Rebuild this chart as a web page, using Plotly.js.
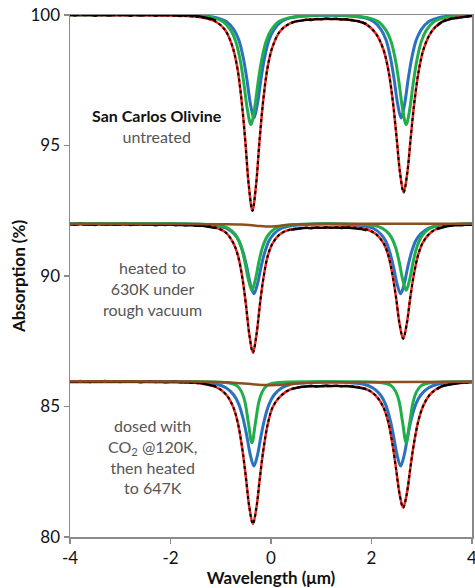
<!DOCTYPE html>
<html><head><meta charset="utf-8">
<script src="https://cdn.plot.ly/plotly-3.0.1.min.js"></script>
<style>html,body{margin:0;padding:0;background:#fff}#chart{width:475px;height:588px}</style>
</head><body><div id="chart"></div>
<script>
// ---------- Tick labels ----------
const xTickVals = [-4, -2, 0, 2, 4];
const xTickText = ['-4', '-2', '0', '2', '4'];
const yTickVals = [80, 85, 90, 95, 100];

// ---------- Top spectrum: San Carlos Olivine, untreated ----------
const topBlueX = [-4, -2, -1.34, -1.09, -0.89, -0.74, -0.64, -0.55, -0.48, -0.41, -0.34, -0.27, -0.20, -0.13, -0.04, 0.06, 0.21, 0.41, 0.66, 1.1, 1.59, 1.84, 2.04, 2.19, 2.29, 2.38, 2.45, 2.52, 2.59, 2.66, 2.73, 2.80, 2.89, 2.99, 3.14, 3.34, 3.59, 4.0];
const topBlueY = [100, 100, 99.96, 99.90, 99.75, 99.44, 99.04, 98.34, 97.54, 96.60, 96.05, 96.60, 97.54, 98.34, 99.04, 99.44, 99.75, 99.90, 99.96, 99.99, 99.96, 99.90, 99.75, 99.44, 99.04, 98.34, 97.54, 96.60, 96.05, 96.60, 97.54, 98.34, 99.04, 99.44, 99.75, 99.90, 99.96, 99.99];
const topGreenX = [-4, -2, -1.40, -1.15, -0.95, -0.80, -0.70, -0.61, -0.54, -0.47, -0.40, -0.33, -0.26, -0.19, -0.10, 0.00, 0.15, 0.35, 0.60, 1.1, 1.69, 1.94, 2.14, 2.29, 2.39, 2.48, 2.55, 2.62, 2.69, 2.76, 2.83, 2.90, 2.99, 3.09, 3.24, 3.44, 3.69, 4.0];
const topGreenY = [100, 100, 99.95, 99.89, 99.74, 99.41, 98.98, 98.24, 97.38, 96.38, 95.80, 96.38, 97.38, 98.24, 98.98, 99.41, 99.74, 99.89, 99.95, 100, 99.95, 99.89, 99.74, 99.41, 98.98, 98.24, 97.38, 96.38, 95.80, 96.38, 97.38, 98.24, 98.98, 99.41, 99.74, 99.89, 99.95, 99.98];
const topRedX = [-4, -3, -2, -1.6, -1.37, -1.12, -0.92, -0.77, -0.67, -0.58, -0.51, -0.44, -0.37, -0.30, -0.23, -0.16, -0.07, 0.03, 0.18, 0.38, 0.63, 1.1, 1.64, 1.89, 2.09, 2.24, 2.34, 2.43, 2.50, 2.57, 2.64, 2.71, 2.78, 2.85, 2.94, 3.04, 3.19, 3.39, 3.64, 4.0];
const topRedY = [100.0, 99.99, 99.98, 99.95, 99.90, 99.77, 99.44, 98.81, 97.98, 96.62, 95.13, 93.43, 92.50, 93.44, 95.14, 96.63, 97.97, 98.78, 99.38, 99.68, 99.80, 99.85, 99.80, 99.65, 99.28, 98.66, 97.84, 96.60, 95.29, 93.92, 93.20, 93.92, 95.29, 96.60, 97.86, 98.71, 99.35, 99.73, 99.88, 99.95];

// ---------- Middle spectrum: heated to 630K under rough vacuum ----------
const midBlueX = [-4, -2, -1.34, -1.09, -0.89, -0.74, -0.64, -0.55, -0.48, -0.41, -0.34, -0.27, -0.20, -0.13, -0.04, 0.06, 0.21, 0.41, 0.66, 1.1, 1.58, 1.83, 2.03, 2.18, 2.28, 2.37, 2.44, 2.51, 2.58, 2.65, 2.72, 2.79, 2.88, 2.98, 3.13, 3.33, 3.58, 4.0];
const midBlueY = [92, 92, 91.97, 91.93, 91.83, 91.62, 91.35, 90.87, 90.33, 89.69, 89.32, 89.69, 90.33, 90.87, 91.35, 91.62, 91.83, 91.93, 91.97, 92, 91.97, 91.93, 91.83, 91.62, 91.35, 90.87, 90.33, 89.69, 89.32, 89.69, 90.33, 90.87, 91.35, 91.62, 91.83, 91.93, 91.97, 92];
const midGreenX = [-4, -2, -1.38, -1.13, -0.93, -0.78, -0.68, -0.59, -0.52, -0.45, -0.38, -0.31, -0.24, -0.17, -0.08, 0.02, 0.17, 0.37, 0.62, 1.1, 1.69, 1.94, 2.14, 2.29, 2.39, 2.48, 2.55, 2.62, 2.69, 2.76, 2.83, 2.90, 2.99, 3.09, 3.24, 3.44, 3.69, 4.0];
const midGreenY = [92, 92, 91.98, 91.95, 91.89, 91.73, 91.50, 91.09, 90.55, 89.87, 89.45, 89.87, 90.55, 91.09, 91.50, 91.73, 91.89, 91.95, 91.98, 92, 91.98, 91.95, 91.89, 91.73, 91.50, 91.09, 90.55, 89.87, 89.45, 89.87, 90.55, 91.09, 91.50, 91.73, 91.89, 91.95, 91.98, 92];
const midRedX = [-4, -3, -2, -1.6, -1.36, -1.11, -0.91, -0.76, -0.66, -0.57, -0.50, -0.43, -0.36, -0.29, -0.22, -0.15, -0.06, 0.04, 0.19, 0.39, 0.64, 1.1, 1.63, 1.88, 2.08, 2.23, 2.33, 2.42, 2.49, 2.56, 2.63, 2.70, 2.77, 2.84, 2.93, 3.03, 3.18, 3.38, 3.63, 4.0];
const midRedY = [91.98, 91.97, 91.97, 91.96, 91.94, 91.86, 91.68, 91.30, 90.80, 89.93, 88.92, 87.74, 87.06, 87.74, 88.92, 89.93, 90.80, 91.28, 91.62, 91.78, 91.84, 91.85, 91.86, 91.80, 91.62, 91.29, 90.82, 90.02, 89.15, 88.15, 87.60, 88.15, 89.15, 90.02, 90.82, 91.31, 91.67, 91.87, 91.95, 91.98];
const midBrownX = [-4, -2, -1, -0.6, -0.3, -0.1, 0.1, 0.3, 0.6, 1, 2, 4];
const midBrownY = [92, 91.99, 91.98, 91.97, 91.93, 91.90, 91.91, 91.95, 91.98, 91.99, 92, 92];

// ---------- Bottom spectrum: dosed with CO2 @120K, then heated to 647K ----------
const botBlueX = [-4, -2, -1.34, -1.09, -0.89, -0.74, -0.64, -0.55, -0.48, -0.41, -0.34, -0.27, -0.20, -0.13, -0.04, 0.06, 0.21, 0.41, 0.66, 1.1, 1.58, 1.83, 2.03, 2.18, 2.28, 2.37, 2.44, 2.51, 2.58, 2.65, 2.72, 2.79, 2.88, 2.98, 3.13, 3.33, 3.58, 4.0];
const botBlueY = [85.95, 85.95, 85.91, 85.86, 85.71, 85.44, 85.08, 84.50, 83.86, 83.13, 82.72, 83.13, 83.86, 84.50, 85.08, 85.44, 85.71, 85.86, 85.91, 85.95, 85.91, 85.86, 85.71, 85.44, 85.08, 84.50, 83.86, 83.13, 82.72, 83.13, 83.86, 84.50, 85.08, 85.44, 85.71, 85.86, 85.91, 85.95];
const botGreenX = [-4, -2, -1.38, -1.13, -0.93, -0.78, -0.68, -0.59, -0.52, -0.45, -0.38, -0.31, -0.24, -0.17, -0.08, 0.02, 0.17, 0.37, 0.62, 1.1, 1.69, 1.94, 2.14, 2.29, 2.39, 2.48, 2.55, 2.62, 2.69, 2.76, 2.83, 2.90, 2.99, 3.09, 3.24, 3.44, 3.69, 4.0];
const botGreenY = [85.95, 85.95, 85.95, 85.94, 85.92, 85.88, 85.80, 85.58, 85.19, 84.38, 83.61, 84.38, 85.19, 85.58, 85.80, 85.88, 85.92, 85.94, 85.95, 85.95, 85.95, 85.94, 85.92, 85.88, 85.80, 85.58, 85.19, 84.38, 83.61, 84.38, 85.19, 85.58, 85.80, 85.88, 85.92, 85.94, 85.95, 85.95];
const botRedX = [-4, -3, -2, -1.6, -1.36, -1.11, -0.91, -0.76, -0.66, -0.57, -0.50, -0.43, -0.36, -0.29, -0.22, -0.15, -0.06, 0.04, 0.19, 0.39, 0.64, 1.1, 1.63, 1.88, 2.08, 2.23, 2.33, 2.42, 2.49, 2.56, 2.63, 2.70, 2.77, 2.84, 2.93, 3.03, 3.18, 3.38, 3.63, 4.0];
const botRedY = [85.95, 85.95, 85.94, 85.92, 85.87, 85.76, 85.49, 85.02, 84.37, 83.36, 82.29, 81.13, 80.50, 81.13, 82.29, 83.36, 84.37, 85.00, 85.40, 85.66, 85.76, 85.78, 85.77, 85.68, 85.43, 85.00, 84.43, 83.53, 82.60, 81.63, 81.12, 81.63, 82.60, 83.53, 84.43, 85.03, 85.49, 85.76, 85.87, 85.93];
const botBrownX = [-4, -2, -1.4, -0.8, -0.4, -0.1, 0.1, 0.4, 0.8, 1.5, 2.5, 4];
const botBrownY = [85.97, 85.96, 85.95, 85.92, 85.86, 85.82, 85.82, 85.87, 85.91, 85.93, 85.94, 85.95];

// ---------- Measured data in the flat regions (noisy) ----------
const noiseX = [-4.0, -3.9, -3.8, -3.7, -3.6, -3.5, -3.4, -3.3, -3.2, -3.1, -3.0, -2.9, -2.8, -2.7, -2.6, -2.5, -2.4, -2.3, -2.2, -2.1, -2.0, -1.9, -1.8, -1.7, -1.6, -1.5, -1.4, -1.3, -1.2, -1.1, null,
  0.4, 0.5, 0.6, 0.7, 0.8, 0.9, 1.0, 1.1, 1.2, 1.3, 1.4, 1.5, 1.6, 1.7, 1.8, 1.9, null,
  3.3, 3.4, 3.5, 3.6, 3.7, 3.8, 3.9, 4.0];
const topNoiseY = [100.02, 99.98, 100.03, 99.99, 100.01, 99.97, 100.02, 100.00, 99.98, 100.03, 99.99, 100.01, 99.97, 100.02, 99.98, 100.00, 100.03, 99.97, 100.01, 99.99, 100.02, 99.98, 99.96, 100.01, 99.97, 99.98, 99.95, 99.90, 99.86, 99.80, null,
  99.69, 99.76, 99.78, 99.82, 99.80, 99.85, 99.83, 99.87, 99.84, 99.86, 99.82, 99.84, 99.79, 99.77, 99.72, 99.66, null,
  99.57, 99.73, 99.80, 99.86, 99.88, 99.93, 99.95, 99.98];
const midNoiseY = [91.99, 91.96, 92.01, 91.97, 91.98, 91.95, 92.00, 91.97, 91.99, 91.96, 91.98, 92.00, 91.95, 91.97, 91.99, 91.96, 91.98, 91.94, 91.97, 91.95, 91.98, 91.94, 91.96, 91.93, 91.95, 91.92, 91.93, 91.90, 91.87, 91.83, null,
  91.77, 91.80, 91.82, 91.85, 91.82, 91.86, 91.84, 91.87, 91.84, 91.86, 91.83, 91.85, 91.83, 91.82, 91.79, 91.75, null,
  91.79, 91.86, 91.90, 91.93, 91.95, 91.94, 91.97, 91.96];
const botNoiseY = [85.97, 85.94, 85.98, 85.95, 85.93, 85.97, 85.95, 85.98, 85.94, 85.96, 85.93, 85.97, 85.95, 85.96, 85.92, 85.95, 85.97, 85.93, 85.95, 85.92, 85.94, 85.96, 85.92, 85.94, 85.91, 85.93, 85.90, 85.86, 85.82, 85.77, null,
  85.66, 85.71, 85.75, 85.77, 85.80, 85.76, 85.79, 85.81, 85.78, 85.80, 85.77, 85.79, 85.76, 85.74, 85.70, 85.65, null,
  85.66, 85.77, 85.82, 85.86, 85.88, 85.91, 85.92, 85.94];

// ---------- Labels ----------
const labelTop = '<b>San Carlos Olivine</b><br><span style="color:#555">untreated</span>';
const labelMid = 'heated to<br>630K under<br>rough vacuum';
const labelBot = 'dosed with<br>CO<sub>2</sub> @120K,<br>then heated<br>to 647K';

// ---------- Styles ----------
const BLUE = '#2a72c0', GREEN = '#1fae4a', RED = '#ee2a1e', BROWN = '#8c4f22', BLACK = '#000';
const traces = [];
function line(x, y, lineStyle, extra) {
  return Object.assign({x: x, y: y, type: 'scatter', mode: 'lines', hoverinfo: 'skip', showlegend: false,
    line: Object.assign({shape: 'spline', smoothing: 1}, lineStyle)}, extra || {});
}
const spectra = [
  {bx: topBlueX, by: topBlueY, gx: topGreenX, gy: topGreenY, rx: topRedX, ry: topRedY, ny: topNoiseY, brx: null, bry: null},
  {bx: midBlueX, by: midBlueY, gx: midGreenX, gy: midGreenY, rx: midRedX, ry: midRedY, ny: midNoiseY, brx: midBrownX, bry: midBrownY},
  {bx: botBlueX, by: botBlueY, gx: botGreenX, gy: botGreenY, rx: botRedX, ry: botRedY, ny: botNoiseY, brx: botBrownX, bry: botBrownY}
];
spectra.forEach(s => {
  traces.push(line(s.bx, s.by, {color: BLUE, width: 3}));
  traces.push(line(s.gx, s.gy, {color: GREEN, width: 3}));
  traces.push(line(s.rx, s.ry, {color: RED, width: 2.5}));
  traces.push(line(noiseX, s.ny, {color: BLACK, width: 2.2, shape: 'linear'}, {connectgaps: false}));
  traces.push(line(s.rx, s.ry, {color: BLACK, width: 2, dash: '3px,3px'}));
  if (s.brx) traces.push(line(s.brx, s.bry, {color: BROWN, width: 2.5}));
});

const FONT = 'Lato, "Open Sans", sans-serif';
const axisCommon = {showgrid: false, zeroline: false, showline: true, linecolor: '#8a8a8a', linewidth: 1.5, mirror: true,
  ticks: 'outside', ticklen: 5, tickwidth: 1.2, tickcolor: '#8a8a8a', tickfont: {family: FONT, size: 17, color: '#111'}};

const layout = {
  width: 475, height: 588,
  margin: {l: 70, r: 3, t: 15, b: 51},
  paper_bgcolor: '#fff', plot_bgcolor: '#fff',
  font: {family: FONT},
  xaxis: Object.assign({}, axisCommon, {range: [-4, 4], tickvals: xTickVals, ticktext: xTickText, ticklabeloverflow: 'allow',
    title: {text: '<b>Wavelength (μm)</b>', font: {family: FONT, size: 17, color: '#111'}, standoff: 2}}),
  yaxis: Object.assign({}, axisCommon, {range: [80, 100], tickvals: yTickVals,
    title: {text: '<b>Absorption (%)</b>', font: {family: FONT, size: 17, color: '#111'}, standoff: 0}}),
  annotations: [
    {text: labelTop, x: -2.27, y: 95.75, xref: 'x', yref: 'y', showarrow: false, align: 'center', font: {family: FONT, size: 16, color: '#111'}},
    {text: labelMid, x: -2.35, y: 89.54, xref: 'x', yref: 'y', showarrow: false, align: 'center', font: {family: FONT, size: 16, color: '#555'}},
    {text: labelBot, x: -2.35, y: 83.08, xref: 'x', yref: 'y', showarrow: false, align: 'center', font: {family: FONT, size: 16, color: '#555'}}
  ]
};
Plotly.newPlot('chart', traces, layout, {staticPlot: true, displayModeBar: false});
</script></body></html>
